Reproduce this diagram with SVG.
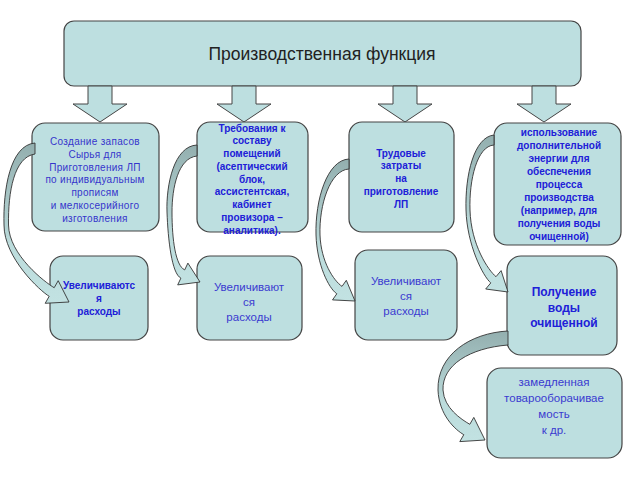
<svg xmlns="http://www.w3.org/2000/svg" width="640" height="480" viewBox="0 0 640 480">
<defs>
<linearGradient id="band" x1="0" y1="0" x2="0" y2="1">
<stop offset="0" stop-color="#93afaf"/>
<stop offset="0.35" stop-color="#a8c6c6"/>
<stop offset="0.65" stop-color="#bcdcdc"/>
<stop offset="1" stop-color="#c2e2e2"/>
</linearGradient>
<style>
.box{fill:#bddfe0;stroke:#444;stroke-width:1.2}
.blk{fill:#bddfe0;stroke:#444;stroke-width:1}
.ca{fill:url(#band);stroke:#333;stroke-width:0.9;stroke-linejoin:miter}
text{font-family:"Liberation Sans",Arial,sans-serif;text-anchor:middle;fill:#2020d8}
.n{font-size:10px;fill:#3535cc;letter-spacing:0.3px}
.b{font-size:10px;font-weight:bold}
.m{font-size:11.5px;fill:#3a3ad0}
.mb{font-size:12px;font-weight:bold}
.t{font-size:17.5px;fill:#222}
</style>
</defs>
<g id="top">
<rect class="box" x="64" y="21" width="517" height="65" rx="10"/>
<text class="t" x="322" y="60">Производственная функция</text>
</g>
<g id="down-arrows">
<path class="blk" d="M88,86 L112,86 L112,104 L127,104 L100,122 L73,104 L88,104 Z"/>
<path class="blk" d="M232,86 L256,86 L256,104 L271,104 L244,122 L217,104 L232,104 Z"/>
<path class="blk" d="M393,86 L417,86 L417,104 L432,104 L405,122 L378,104 L393,104 Z"/>
<path class="blk" d="M532,86 L556,86 L556,104 L571,104 L544,122 L517,104 L532,104 Z"/>
</g>
<g id="n1">
<rect class="box" x="32" y="123" width="127" height="108" rx="13"/>
<text class="n"><tspan x="95" y="145">Создание запасов</tspan><tspan x="95" dy="12.8">Сырья для</tspan><tspan x="95" dy="12.8">Приготовления ЛП</tspan><tspan x="95" dy="12.8">по индивидуальным</tspan><tspan x="95" dy="12.8">прописям</tspan><tspan x="95" dy="12.8">и мелкосерийного</tspan><tspan x="95" dy="12.8">изготовления</tspan></text>
</g>
<g id="n2">
<rect class="box" x="197" y="122" width="111" height="110" rx="13"/>
<text class="b"><tspan x="252" y="131.5">Требования к</tspan><tspan x="252" dy="12.75">составу</tspan><tspan x="252" dy="12.75">помещений</tspan><tspan x="252" dy="12.75">(асептический</tspan><tspan x="252" dy="12.75">блок,</tspan><tspan x="252" dy="12.75">ассистентская,</tspan><tspan x="252" dy="12.75">кабинет</tspan><tspan x="252" dy="12.75">провизора –</tspan><tspan x="252" dy="12.75">аналитика).</tspan></text>
</g>
<g id="n3">
<rect class="box" x="349" y="122" width="105" height="110" rx="13"/>
<text class="b"><tspan x="401" y="156.5">Трудовые</tspan><tspan x="401" dy="12.75">затраты</tspan><tspan x="401" dy="12.75">на</tspan><tspan x="401" dy="12.75">приготовление</tspan><tspan x="401" dy="12.75">ЛП</tspan></text>
</g>
<g id="n4">
<rect class="box" x="494" y="123" width="127" height="122" rx="13"/>
<text class="b"><tspan x="559" y="135.5">использование</tspan><tspan x="559" dy="13">дополнительной</tspan><tspan x="559" dy="13">энергии для</tspan><tspan x="559" dy="13">обеспечения</tspan><tspan x="559" dy="13">процесса</tspan><tspan x="559" dy="13">производства</tspan><tspan x="559" dy="13">(например, для</tspan><tspan x="559" dy="13">получения воды</tspan><tspan x="559" dy="13">очищенной)</tspan></text>
</g>
<g id="n5">
<rect class="box" x="50" y="256" width="98" height="84" rx="13"/>
<text class="b"><tspan x="99" y="288.5">Увеличиваютс</tspan><tspan x="99" dy="13">я</tspan><tspan x="99" dy="13">расходы</tspan></text>
</g>
<g id="n6">
<rect class="box" x="197" y="256" width="105" height="84" rx="13"/>
<text class="m"><tspan x="249" y="291">Увеличивают</tspan><tspan x="249" dy="15">ся</tspan><tspan x="249" dy="15">расходы</tspan></text>
</g>
<g id="n7">
<rect class="box" x="355" y="250" width="102" height="90" rx="13"/>
<text class="m"><tspan x="406" y="285">Увеличивают</tspan><tspan x="406" dy="15">ся</tspan><tspan x="406" dy="15">расходы</tspan></text>
</g>
<g id="n8">
<rect class="box" x="507" y="256" width="110" height="99" rx="14"/>
<text class="mb"><tspan x="564" y="296">Получение</tspan><tspan x="564" dy="15.5">воды</tspan><tspan x="564" dy="15.5">очищенной</tspan></text>
</g>
<g id="n9">
<rect class="box" x="487" y="368" width="135" height="90" rx="14"/>
<text class="m"><tspan x="554" y="386">замедленная</tspan><tspan x="554" dy="16">товарооборачивае</tspan><tspan x="554" dy="16">мость</tspan><tspan x="554" dy="16">к др.</tspan></text>
</g>
<g id="connectors">
<path class="ca" d="M35,143 C10,145 3,190 4,225 C4,258 40.5,291.3 49.2,296.3 L45.2,303.3 L69,302 L58.2,280.7 L54.2,287.7 C45.5,282.7 9,255 8.5,225 C8,192 14,157 35,154 Z"/>
<path class="ca" d="M197,145 C174,146 166,185 167,212 C168,240 171.8,273.9 180.9,278.1 L177.7,284.9 L200,282 L187.9,263.1 L184.7,269.9 C175.6,265.7 172,240 172,212 C172,188 178,158 197,156 Z"/>
<path class="ca" d="M349,159 C327,160 315,200 316,235 C317,265 328.6,288.1 336.8,293.8 L332.5,299.9 L355,301 L346.3,280.3 L342,286.4 C333.8,280.7 321,262 320,235 C319,205 330,170 349,169 Z"/>
<path class="ca" d="M494,135 C474,137 465,175 466,210 C467,245 483.1,276.5 490.8,282.9 L485.7,289 L508,292 L501.1,270.6 L496,276.7 C488.3,270.3 471,245 470,210 C469,180 477,146 494,145 Z"/>
<path class="ca" d="M508,331 C470,333 437,355 438,390 C439,415 455.1,429.7 463.8,434.7 L459.8,441.6 L485,440 L473.8,417.4 L469.8,424.3 C461.1,419.3 444,408 443,390 C442,365 470,348 508,345 Z"/>
</g>
</svg>
